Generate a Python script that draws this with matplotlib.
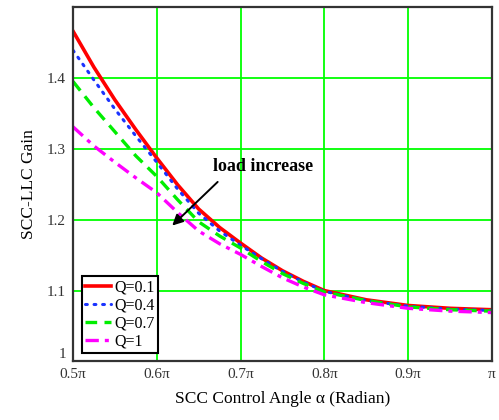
import matplotlib
matplotlib.use("Agg")
import matplotlib.pyplot as plt
import matplotlib.transforms as mtransforms
import numpy as np

plt.rcParams['font.family'] = ['Liberation Serif', 'DejaVu Serif']

# control angle in units of pi
alpha = [0.50, 0.525, 0.55, 0.575, 0.60, 0.625, 0.65, 0.675, 0.70, 0.725,
         0.75, 0.775, 0.80, 0.85, 0.90, 0.95, 1.00]
gain_q01 = [1.466, 1.415, 1.369, 1.327, 1.287, 1.249, 1.215, 1.189, 1.167, 1.146,
            1.128, 1.113, 1.100, 1.087, 1.079, 1.075, 1.073]
gain_q04 = [1.439, 1.397, 1.356, 1.318, 1.281, 1.243, 1.209, 1.184, 1.164, 1.145,
            1.127, 1.112, 1.099, 1.086, 1.078, 1.074, 1.072]
gain_q07 = [1.395, 1.358, 1.324, 1.290, 1.261, 1.228, 1.197, 1.177, 1.160, 1.141,
            1.124, 1.110, 1.098, 1.086, 1.077, 1.073, 1.071]
gain_q1 = [1.331, 1.304, 1.281, 1.259, 1.238, 1.210, 1.184, 1.166, 1.151, 1.134,
           1.118, 1.105, 1.094, 1.083, 1.075, 1.071, 1.069]

xticks = [0.5, 0.6, 0.7, 0.8, 0.9, 1.0]
xtick_labels = ['0.5π', '0.6π', '0.7π', '0.8π', '0.9π', 'π']
yticks = [1.0, 1.1, 1.2, 1.3, 1.4]
ytick_labels = ['1', '1.1', '1.2', '1.3', '1.4']

fig = plt.figure(figsize=(4.99, 4.20), dpi=100)
ax = fig.add_axes([0.1463, 0.1393, 0.8397, 0.844])

ax.grid(True, color='#00ff00', linewidth=1.3)
ax.set_axisbelow(True)

ax.plot(alpha, gain_q01, color='#ff0000', lw=2.6, ls='-', label='Q=0.1')
ax.plot(alpha, gain_q04, color='#1a33ff', lw=2.2, ls=(0, (0.6, 2.2)),
        dash_capstyle='round', label='Q=0.4')
ax.plot(alpha, gain_q07, color='#00ee00', lw=2.4, ls=(0, (3.5, 2.2)), label='Q=0.7')
ax.plot(alpha, gain_q1, color='#ff00ff', lw=2.4, ls=(0, (4, 1.8, 1.2, 1.8)), label='Q=1')

ax.set_xlim(0.5, 1.0)
ax.set_ylim(1.0, 1.5)
ax.set_xticks(xticks)
ax.set_xticklabels(xtick_labels)
ax.set_yticks(yticks)
ax.set_yticklabels(ytick_labels)
ax.tick_params(axis='both', length=0, labelsize=11, colors='#333333')
ax.tick_params(axis='x', pad=5)
ax.tick_params(axis='y', pad=5)

# raise the bottom "1" label a little, as in the original
lab0 = ax.get_yticklabels()[0]
lab0.set_transform(lab0.get_transform() +
                   mtransforms.ScaledTranslation(0, 8 / 100, fig.dpi_scale_trans))

for sp in ax.spines.values():
    sp.set_linewidth(1.6)
    sp.set_color('#333333')

ax.set_xlabel('SCC Control Angle α (Radian)', fontsize=12.5, labelpad=7)
ax.set_ylabel('SCC-LLC Gain', fontsize=12.5, labelpad=7)

ax.annotate('', xy=(0.616, 1.189), xytext=(0.675, 1.256),
            arrowprops=dict(arrowstyle='-|>', color='black', lw=1.4,
                            mutation_scale=16))
ax.text(0.727, 1.275, 'load increase', fontsize=13, fontweight='bold',
        ha='center', va='center')

leg = ax.legend(loc='lower left', bbox_to_anchor=(0.021, 0.025), fontsize=11.5,
                fancybox=False, framealpha=1, edgecolor='black',
                handlelength=1.65, handletextpad=0.2, labelspacing=0.12,
                borderpad=0.2, borderaxespad=0)
leg.get_frame().set_linewidth(1.5)

fig.savefig('out.png', dpi=100)
